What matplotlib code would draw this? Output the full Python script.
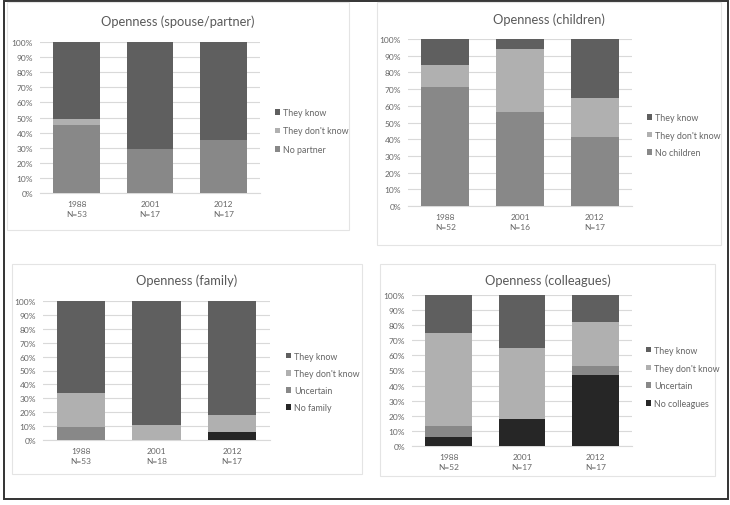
import numpy as np
import matplotlib
matplotlib.use("Agg")
import matplotlib.pyplot as plt
from matplotlib.patches import Rectangle, Patch

plt.rcParams['font.family'] = ['Lato', 'DejaVu Sans']

# colours used in the original (grayscale)
c_know = '#5f5f5f'
c_dontknow = '#b0b0b0'
c_none = '#888888'
c_uncertain = '#888888'
c_nofam = '#262626'
txt_col = '#666666'

# data (percent)
years = ['1988', '2001', '2012']

spouse_n = ['N=53', 'N=17', 'N=17']
spouse_nopartner = [45.3, 29.4, 35.3]
spouse_dontknow = [3.8, 0.0, 0.0]
spouse_know = [50.9, 70.6, 64.7]

children_n = ['N=52', 'N=16', 'N=17']
children_nochildren = [71.2, 56.3, 41.2]
children_dontknow = [13.5, 37.5, 23.5]
children_know = [15.3, 6.2, 35.3]

family_n = ['N=53', 'N=18', 'N=17']
family_nofamily = [0.0, 0.0, 5.9]
family_uncertain = [9.4, 0.0, 0.0]
family_dontknow = [24.5, 11.1, 11.8]
family_know = [66.1, 88.9, 82.3]

coll_n = ['N=52', 'N=17', 'N=17']
coll_nocoll = [5.8, 17.6, 47.1]
coll_uncertain = [7.7, 0.0, 5.9]
coll_dontknow = [61.5, 47.1, 29.4]
coll_know = [25.0, 35.3, 17.6]

W, H = 730, 506
fig = plt.figure(figsize=(W / 100, H / 100), dpi=100)


def px_rect(x0, y0, x1, y1):
    # pixel box (top-left origin) -> figure fraction
    return [x0 / W, 1 - y1 / H, (x1 - x0) / W, (y1 - y0) / H]


# outer black frame
fig.patches.append(Rectangle((4 / W, 1 - 500 / H), 724 / W, 498 / H, transform=fig.transFigure,
                             fill=False, edgecolor='#333333', linewidth=1.4, zorder=0))


def draw_panel(frame, box, title, title_y, series, ns, legend_xy, legend_gap):
    x0, y0, x1, y1 = frame
    fig.patches.append(Rectangle((x0 / W, 1 - y1 / H), (x1 - x0) / W, (y1 - y0) / H,
                                 transform=fig.transFigure, facecolor='white',
                                 edgecolor='#e4e4e4', linewidth=0.8, zorder=1))
    ax = fig.add_axes(px_rect(*box))
    ax.set_zorder(2)
    x = np.arange(len(years))
    bottom = np.zeros(len(years))
    for vals, col, lab in series:
        ax.bar(x, vals, width=0.64, bottom=bottom, color=col, zorder=3)
        bottom += np.array(vals)
    ax.set_xlim(-0.5, 2.5)
    ax.set_ylim(0, 100)
    ax.set_yticks(np.arange(0, 101, 10))
    ax.set_yticklabels([f'{v}%' for v in range(0, 101, 10)])
    ax.set_xticks(x)
    ax.set_xticklabels([f'{y}\n{n}' for y, n in zip(years, ns)], linespacing=1.5)
    ax.grid(axis='y', color='#d9d9d9', linewidth=0.8, zorder=0)
    ax.set_axisbelow(True)
    for s in ['top', 'right', 'left']:
        ax.spines[s].set_visible(False)
    ax.spines['bottom'].set_color('#d9d9d9')
    ax.tick_params(length=0, labelsize=6, colors=txt_col, pad=5)
    ax.patch.set_alpha(0)
    cx = (x0 + x1) / 2
    fig.text(cx / W, 1 - title_y / H, title, ha='center', va='center', fontsize=9.3, color='#595959')
    handles = [Patch(facecolor=col, label=lab) for vals, col, lab in series][::-1]
    fig.legend(handles=handles, loc='center left',
               bbox_to_anchor=(legend_xy[0] / W, 1 - legend_xy[1] / H),
               frameon=False, fontsize=6.4, labelcolor=txt_col,
               handlelength=0.6, handleheight=0.6, handletextpad=0.3,
               labelspacing=legend_gap, borderaxespad=0, borderpad=0)
    return ax


draw_panel((7, 3, 349, 231), (40, 43, 260, 194), 'Openness (spouse/partner)', 22,
           [(spouse_nopartner, c_none, 'No partner'),
            (spouse_dontknow, c_dontknow, "They don't know"),
            (spouse_know, c_know, 'They know')],
           spouse_n, (275, 132), 1.05)

draw_panel((377, 3, 721, 246), (408, 40, 632, 207), 'Openness (children)', 20,
           [(children_nochildren, c_none, 'No children'),
            (children_dontknow, c_dontknow, "They don't know"),
            (children_know, c_know, 'They know')],
           children_n, (647, 136), 0.95)

draw_panel((12, 265, 362, 475), (43, 302, 270, 441), 'Openness (family)', 281,
           [(family_nofamily, c_nofam, 'No family'),
            (family_uncertain, c_uncertain, 'Uncertain'),
            (family_dontknow, c_dontknow, "They don't know"),
            (family_know, c_know, 'They know')],
           family_n, (286, 383), 0.92)

draw_panel((380, 265, 715, 477), (412, 296, 632, 447), 'Openness (colleagues)', 281,
           [(coll_nocoll, c_nofam, 'No colleagues'),
            (coll_uncertain, c_uncertain, 'Uncertain'),
            (coll_dontknow, c_dontknow, "They don't know"),
            (coll_know, c_know, 'They know')],
           coll_n, (646, 378), 1.0)

fig.savefig('out.png', dpi=100)
